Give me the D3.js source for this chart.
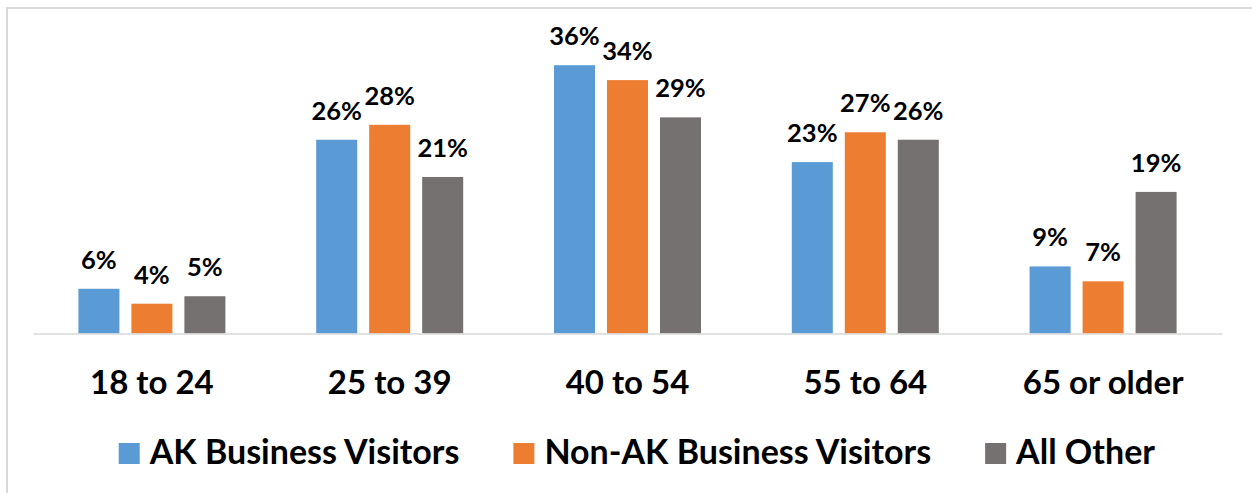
<!DOCTYPE html>
<html>
<head>
<meta charset="utf-8">
<script src="https://cdn.jsdelivr.net/npm/d3@7/dist/d3.min.js"></script>
<style>
  html, body { margin: 0; padding: 0; background: #fff; }
  svg { display: block; }
  text { font-family: "Lato", "Open Sans", sans-serif; font-weight: 700; fill: #000; }
</style>
</head>
<body>
<svg id="chart" width="1252" height="493"></svg>
<script>
// Age groups and the share of each visitor segment (percent)
const categories = ["18 to 24", "25 to 39", "40 to 54", "55 to 64", "65 or older"];
const seriesNames = ["AK Business Visitors", "Non-AK Business Visitors", "All Other"];
const akBusiness = [6, 26, 36, 23, 9];
const nonAkBusiness = [4, 28, 34, 27, 7];
const allOther = [5, 21, 29, 26, 19];
const seriesColors = ["#5B9BD5", "#ED7D31", "#767171"];

const seriesValues = [akBusiness, nonAkBusiness, allOther];

const svg = d3.select("#chart");
const W = 1252, H = 493;

// outer frame
svg.append("rect")
  .attr("x", 7).attr("y", 8)
  .attr("width", W + 10).attr("height", H + 10)
  .attr("fill", "none")
  .attr("stroke", "#D9D9D9")
  .attr("stroke-width", 2);

const plot = { left: 33, right: 1222, top: 35.4, bottom: 333.5 };

const x0 = d3.scaleBand()
  .domain(categories)
  .range([plot.left, plot.right])
  .padding(0);

const groupWidth = 147;
const x1 = d3.scaleBand()
  .domain(seriesNames)
  .range([(x0.bandwidth() - groupWidth) / 2, (x0.bandwidth() + groupWidth) / 2])
  .paddingInner(0.226)
  .paddingOuter(0);

const y = d3.scaleLinear()
  .domain([0, 40])
  .range([plot.bottom, plot.top]);

const rows = categories.map((c, i) => ({
  category: c,
  values: seriesNames.map((s, j) => ({ series: s, value: seriesValues[j][i], color: seriesColors[j] }))
}));

const groups = svg.append("g").selectAll("g")
  .data(rows)
  .join("g")
  .attr("transform", d => `translate(${x0(d.category)},0)`);

groups.selectAll("rect")
  .data(d => d.values)
  .join("rect")
  .attr("x", d => x1(d.series))
  .attr("y", d => y(d.value))
  .attr("width", x1.bandwidth())
  .attr("height", d => y(0) - y(d.value))
  .attr("fill", d => d.color);

groups.selectAll("text.value")
  .data(d => d.values)
  .join("text")
  .attr("class", "value")
  .attr("x", d => x1(d.series) + x1.bandwidth() / 2)
  .attr("y", d => y(d.value) - 20)
  .attr("text-anchor", "middle")
  .style("font-size", "25.5px")
  .text(d => d.value + "%");

// category axis
const xAxis = svg.append("g")
  .attr("transform", `translate(0,${plot.bottom})`)
  .call(d3.axisBottom(x0).tickSize(0).tickPadding(0));
xAxis.select(".domain")
  .attr("stroke", "#D9D9D9")
  .attr("stroke-width", 1.5);
xAxis.selectAll(".tick text")
  .attr("dy", 0)
  .attr("y", 60)
  .style("font-family", "Lato, 'Open Sans', sans-serif")
  .style("font-weight", 700)
  .style("font-size", "33px")
  .attr("fill", "#000");

// legend
const legend = svg.append("g");
const items = legend.selectAll("g")
  .data(seriesNames)
  .join("g");
items.append("rect")
  .attr("width", 21).attr("height", 21)
  .attr("y", 443)
  .attr("fill", (d, i) => seriesColors[i]);
items.append("text")
  .attr("x", 31)
  .attr("y", 464)
  .style("font-size", "34px")
  .text(d => d);

const gap = 54;
const widths = [];
items.each(function () { widths.push(this.getBBox().width); });
const total = d3.sum(widths) + gap * (widths.length - 1);
let cx = 637 - total / 2;
items.each(function (d, i) {
  d3.select(this).attr("transform", `translate(${cx},0)`);
  cx += widths[i] + gap;
});
</script>
</body>
</html>
